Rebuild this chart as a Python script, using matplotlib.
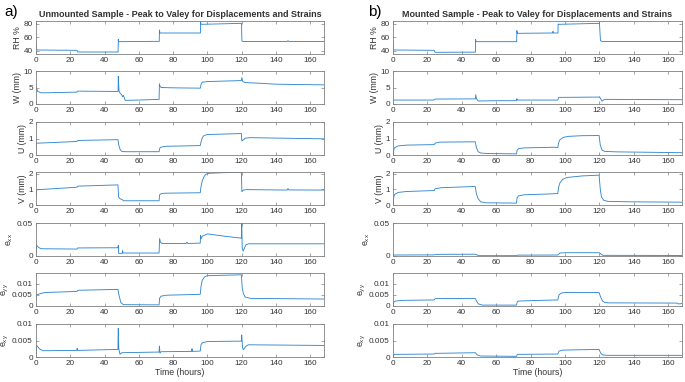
import matplotlib
matplotlib.use('Agg')
import matplotlib.pyplot as plt
from matplotlib.ticker import FuncFormatter

plt.rcParams['font.family'] = ['Liberation Sans', 'DejaVu Sans']
plt.rcParams['mathtext.default'] = 'regular'

# ---------------- data (time in hours, value) ----------------
# a) Unmounted sample
rh_a = [(0, 52), (0.2, 42), (1, 41), (23.9, 40.5), (24.3, 38), (47.9, 38), (48.0, 57), (48.3, 53.5),
        (71.9, 54), (72.0, 71), (72.3, 66.5), (95.9, 66.5), (96.0, 84), (96.3, 79.5), (119.9, 81),
        (120.1, 55), (120.5, 53.8), (146.5, 53.8), (147, 55), (147.5, 53.8), (168, 53.8)]
w_a = [(0, 5.2), (0.3, 4.8), (1, 3.8), (3, 3.4), (6, 3.4), (23.9, 3.6), (24.2, 3.9), (47.9, 3.8),
       (48.0, 8.4), (48.4, 4.0), (49, 3.3), (50, 2.8), (50.5, 2.2), (51, 2.6), (52, 1.1), (60, 1.2),
       (71.8, 1.4), (72.0, 6.1), (72.3, 5.4), (73, 5.0), (80, 4.9), (95.9, 4.8), (96.3, 6.0),
       (97, 6.6), (100, 6.8), (119.8, 7.1), (120.1, 8.0), (120.6, 6.8), (122, 6.5), (130, 6.3),
       (140, 6.0), (168, 5.8)]
u_a = [(0, 0.3), (0.2, 0.72), (2, 0.72), (23.9, 0.82), (24.3, 0.88), (47.8, 0.93), (48.3, 0.6),
       (49, 0.35), (50, 0.22), (52, 0.2), (71.8, 0.2), (72.2, 0.42), (73, 0.48), (76, 0.53),
       (95.8, 0.57), (96.3, 0.8), (97, 1.05), (98, 1.18), (100, 1.24), (119.8, 1.3), (120.1, 0.85),
       (121, 0.92), (122, 1.02), (125, 1.05), (168, 0.98)]
v_a = [(0, 0.5), (0.3, 0.97), (23.9, 1.13), (24.3, 1.2), (47.8, 1.28), (48.2, 0.5), (49, 0.4),
       (50.5, 0.33), (51, 0.27), (71.8, 0.27), (72.1, 0.65), (73, 0.72), (75, 0.75), (95.8, 0.78),
       (96.3, 1.2), (97, 1.55), (98, 1.8), (99, 1.95), (101, 2.02), (110, 2.06), (119.8, 2.08),
       (120.1, 0.85), (121, 0.95), (123, 0.98), (146.5, 0.95), (147, 1.05), (147.5, 0.96), (168, 0.95)]
exx_a = [(0, 0.005), (0.4, 0.016), (1.5, 0.013), (3, 0.011), (23.9, 0.0105), (24.3, 0.0122),
         (47.8, 0.0125), (48, 0.016), (48.2, 0.004), (50.3, 0.004), (50.5, 0.008), (50.8, 0.0045),
         (71.8, 0.0045), (72.1, 0.0265), (72.6, 0.021), (73.5, 0.019), (87.5, 0.019), (88, 0.021),
         (88.5, 0.019), (95.8, 0.0195), (96, 0.031), (96.3, 0.026), (97, 0.03), (100, 0.0335),
         (110, 0.030), (119.8, 0.027), (120, 0.05), (120.3, 0.012), (120.8, 0.0075), (122.5, 0.017),
         (124, 0.0185), (168, 0.0185)]
eyy_a = [(0, 0.003), (0.3, 0.005), (5, 0.006), (23.9, 0.0065), (24.3, 0.007), (47.8, 0.0074),
         (48.5, 0.0045), (49.5, 0.0015), (51, 0.0006), (71.8, 0.0005), (72.1, 0.0035), (73, 0.0044),
         (76, 0.0048), (95.8, 0.0052), (96.3, 0.009), (97, 0.0115), (98.5, 0.0131), (100, 0.0135),
         (119.8, 0.0139), (120.3, 0.008), (121, 0.0055), (122, 0.004), (125, 0.0034), (168, 0.0031)]
exy_a = [(0, 0.001), (0.4, 0.0035), (2, 0.0025), (4, 0.0019), (23.8, 0.002), (24, 0.0026),
         (24.3, 0.002), (47.8, 0.0023), (48, 0.0087), (48.3, 0.0025), (49, 0.0008), (50, 0.0013),
         (71.8, 0.0015), (72, 0.0033), (72.3, 0.0012), (73, 0.0016), (90.8, 0.0017), (91, 0.0025),
         (91.2, 0.0017), (95.8, 0.0018), (96.3, 0.0038), (97, 0.0043), (100, 0.0047), (119.8, 0.0048),
         (120, 0.0067), (120.5, 0.0028), (121, 0.0022), (122.5, 0.0033), (124, 0.0037), (168, 0.0035)]

# b) Mounted sample
rh_b = [(0, 55), (0.2, 42), (1, 41), (23.9, 40.5), (24.5, 37.5), (47.9, 37.8), (48, 57), (48.3, 53.5),
        (71.9, 53.5), (72, 70), (72.3, 66), (92.8, 66.5), (93, 69), (93.3, 66.5), (95.9, 66.5),
        (96, 80), (96.3, 79.5), (119.9, 81), (120, 82), (120.6, 55), (121.5, 53.8), (168, 53.8)]
w_b = [(0, 1.2), (23.9, 1.2), (24.5, 1.5), (47.9, 1.55), (48.1, 2.8), (48.5, 1.6), (49.5, 0.9),
       (60, 1.0), (71.8, 1.0), (72, 1.6), (72.3, 1.2), (95.8, 1.2), (96.3, 2.0), (119.8, 2.1),
       (120, 2.2), (121.5, 0.9), (123, 1.4), (168, 1.3)]
u_b = [(0, 0.0), (0.5, 0.35), (1, 0.45), (3, 0.55), (8, 0.6), (23.9, 0.63), (24.5, 0.72), (27, 0.78),
       (47.8, 0.8), (48.5, 0.45), (49.5, 0.2), (51, 0.12), (55, 0.09), (71.8, 0.07), (72.2, 0.3),
       (73, 0.38), (76, 0.43), (94, 0.47), (95.8, 0.45), (96.3, 0.75), (97, 0.92), (99, 1.07),
       (102, 1.13), (110, 1.17), (119.8, 1.18), (120.5, 0.6), (121.5, 0.3), (123, 0.22), (130, 0.19),
       (168, 0.14)]
v_b = [(0, 0.0), (0.5, 0.55), (1, 0.68), (3, 0.8), (8, 0.86), (23.9, 0.92), (24.5, 1.03), (28, 1.1),
       (47.8, 1.18), (48.5, 0.7), (49.5, 0.4), (51, 0.2), (54, 0.14), (71.8, 0.12), (72.1, 0.45),
       (73, 0.58), (76, 0.65), (90, 0.7), (95.8, 0.73), (96.3, 1.15), (97, 1.4), (98.5, 1.62),
       (101, 1.75), (110, 1.85), (119.8, 1.9), (120.5, 1.0), (121.2, 0.5), (122.5, 0.3), (125, 0.23),
       (140, 0.2), (168, 0.18)]
exx_b = [(0, 0.0), (0.5, 0.0015), (23.9, 0.0017), (24.5, 0.0025), (47.8, 0.0027), (50, 0.0005),
         (71.8, 0.0005), (72.5, 0.0013), (95.8, 0.0015), (97, 0.0045), (100, 0.005), (119.8, 0.005),
         (122, 0.001), (168, 0.0008)]
eyy_b = [(0, 0.0002), (0.5, 0.0018), (1.5, 0.0022), (5, 0.0025), (23.9, 0.0027), (24.5, 0.0033),
         (47.8, 0.0034), (48.7, 0.002), (49.7, 0.0009), (52, 0.0004), (71.8, 0.0004), (72.3, 0.002),
         (73, 0.0022), (80, 0.0024), (95.8, 0.0027), (96.5, 0.005), (98, 0.0058), (100, 0.006),
         (119.8, 0.006), (120.7, 0.004), (121.8, 0.0022), (123, 0.0016), (125, 0.0014), (165, 0.0013),
         (166, 0.0009), (168, 0.0011)]
exy_b = [(0, 0.0002), (0.7, 0.0008), (23.9, 0.0009), (24.5, 0.0011), (47.8, 0.0013), (49, 0.0006),
         (51, 0.0003), (71.8, 0.0002), (72.3, 0.0008), (95.8, 0.0009), (96.5, 0.0018), (99, 0.0021),
         (119.8, 0.0023), (120.8, 0.0011), (122, 0.0006), (125, 0.0005), (168, 0.0005)]

ylabels = ['RH %', 'W (mm)', 'U (mm)', 'V (mm)', 'e$_{xx}$', 'e$_{yy}$', 'e$_{xy}$']
ylims = [(35, 84.5), (0, 10), (0, 2), (0, 2.1), (0, 0.05), (0, 0.0147), (0, 0.01)]
yticks = [[40, 60, 80], [0, 5, 10], [0, 1, 2], [0, 1, 2], [0, 0.05], [0, 0.005, 0.01], [0, 0.005, 0.01]]
xticks = [0, 20, 40, 60, 80, 100, 120, 140, 160]
titles = ['Unmounted Sample - Peak to Valey for Displacements and Strains',
          'Mounted Sample - Peak to Valey for Displacements and Strains']
panel_tags = ['a)', 'b)']
series = [[rh_a, w_a, u_a, v_a, exx_a, eyy_a, exy_a],
          [rh_b, w_b, u_b, v_b, exx_b, eyy_b, exy_b]]

# ---------------- layout ----------------
FW, FH = 685, 382
fig = plt.figure(figsize=(FW / 100, FH / 100), dpi=100)
tops = [21, 71, 122, 172, 223, 273, 324]
ah = 33
xspans = [(36, 324), (393, 682)]
tagx = [4, 368]

line_color = '#3389d0'
spine_color = '#808080'
text_color = '#333333'
fmt = FuncFormatter(lambda v, p: '%g' % v)

for p in range(2):
    x0, x1 = xspans[p]
    for i in range(7):
        ax = fig.add_axes([x0 / FW, 1 - (tops[i] + ah) / FH, (x1 - x0) / FW, ah / FH])
        t = [q[0] for q in series[p][i]]
        y = [q[1] for q in series[p][i]]
        ax.plot(t, y, color=line_color, lw=0.65)
        ax.set_xlim(0, 168)
        ax.set_ylim(*ylims[i])
        ax.set_xticks(xticks)
        ax.set_yticks(yticks[i])
        ax.yaxis.set_major_formatter(fmt)
        ax.tick_params(direction='in', length=2.5, width=0.5, top=True, right=True,
                       labelsize=5.9, colors=spine_color, labelcolor=text_color, pad=2.3)
        for s in ax.spines.values():
            s.set_color(spine_color)
            s.set_linewidth(0.6)
        ax.set_ylabel(ylabels[i], fontsize=6.3, color=text_color, labelpad=1.0)
        if i == 0:
            ax.set_title(titles[p], fontsize=6.5, fontweight='bold', color=text_color, pad=3)
        if i == 6:
            ax.set_xlabel('Time (hours)', fontsize=6.3, color=text_color, labelpad=0.5)
    fig.text(tagx[p] / FW, 1 - 12 / FH, panel_tags[p], fontsize=11, color='black', va='center', ha='left')

fig.savefig('out.png', dpi=100)
